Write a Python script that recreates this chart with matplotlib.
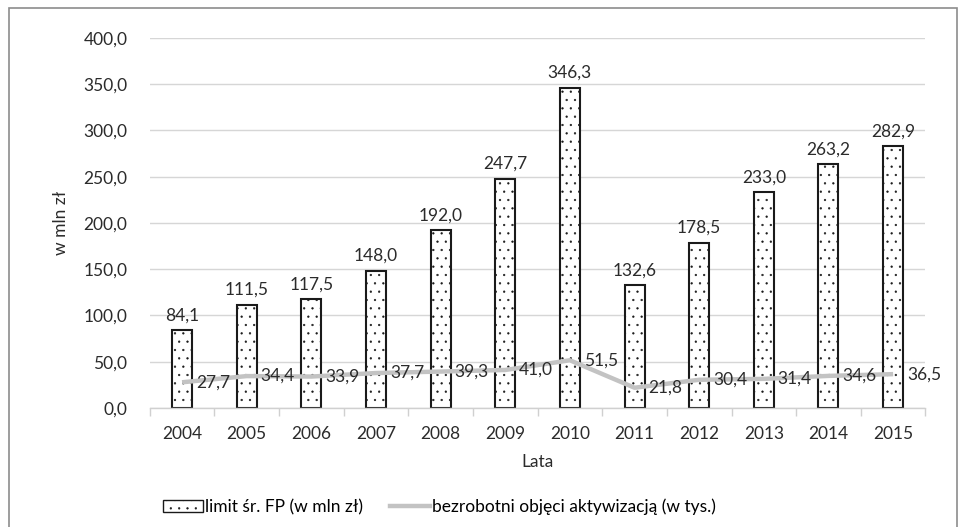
import matplotlib
matplotlib.use("Agg")
import matplotlib.pyplot as plt
from matplotlib.patches import Rectangle, Patch
from matplotlib.lines import Line2D

years = ["2004", "2005", "2006", "2007", "2008", "2009", "2010", "2011", "2012", "2013", "2014", "2015"]
limit_fp = [84.1, 111.5, 117.5, 148.0, 192.0, 247.7, 346.3, 132.6, 178.5, 233.0, 263.2, 282.9]
bezrobotni = [27.7, 34.4, 33.9, 37.7, 39.3, 41.0, 51.5, 21.8, 30.4, 31.4, 34.6, 36.5]
yticks = [0, 50, 100, 150, 200, 250, 300, 350, 400]

plt.rcParams['font.family'] = ['Lato', 'DejaVu Sans']
plt.rcParams['hatch.linewidth'] = 0.4
TXT = "#2b2b2b"
FS = 12.5

def fmt(v):
    return f"{v:.1f}".replace(".", ",")

fig = plt.figure(figsize=(9.66, 5.27), dpi=100)
ax = fig.add_axes([0.155, 0.226, 0.803, 0.702])

x = list(range(len(years)))
ax.bar(x, limit_fp, width=0.31, color="white", edgecolor="#1a1a1a",
       linewidth=1.5, hatch="..", zorder=2)
ax.plot(x, bezrobotni, color="#c3c3c3", linewidth=3.2, solid_capstyle="butt", zorder=3)

for xi, v in zip(x, limit_fp):
    ax.annotate(fmt(v), (xi, v), xytext=(0, 5), textcoords="offset points",
                ha="center", va="bottom", fontsize=FS, color=TXT)
for xi, v in zip(x, bezrobotni):
    ax.annotate(fmt(v), (xi, v), xytext=(10, 0), textcoords="offset points",
                ha="left", va="center", fontsize=FS, color=TXT, zorder=4)

ax.set_xlim(-0.5, len(years) - 0.5)
ax.set_ylim(0, 400)
ax.set_yticks(yticks)
ax.set_yticklabels([fmt(v) for v in yticks], fontsize=FS, color=TXT)
ax.set_xticks(x)
ax.set_xticklabels(years, fontsize=FS, color=TXT)
ax.set_xticks([i - 0.5 for i in range(len(years) + 1)], minor=True)
ax.tick_params(axis="x", which="major", length=0, pad=13)
ax.tick_params(axis="x", which="minor", length=6, color="#d0d0d0", width=1)
ax.tick_params(axis="y", length=0, pad=16)
ax.grid(axis="y", color="#d6d6d6", linewidth=1, zorder=0)
for s in ["top", "right", "left"]:
    ax.spines[s].set_visible(False)
ax.spines["bottom"].set_color("#d0d0d0")
ax.spines["bottom"].set_linewidth(1)

ax.set_xlabel("Lata", fontsize=FS, color=TXT, labelpad=9)
ax.set_ylabel("w mln zł", fontsize=FS, color=TXT, labelpad=10)

handles = [Patch(facecolor="white", edgecolor="#1a1a1a", hatch="..", linewidth=1),
           Line2D([0], [0], color="#c3c3c3", linewidth=3.2)]
fig.legend(handles, ["limit śr. FP (w mln zł)", "bezrobotni objęci aktywizacją (w tys.)"],
           loc="center", bbox_to_anchor=(0.455, 0.038), ncol=2, frameon=False,
           fontsize=FS, handlelength=2.3, handleheight=0.7, handletextpad=0.1,
           columnspacing=1.6)

fig.patches.append(Rectangle((0.009, -0.05), 0.982, 1.034, transform=fig.transFigure,
                             fill=False, edgecolor="#8c8c8c", linewidth=1.2))

fig.savefig("out.png", dpi=100)
